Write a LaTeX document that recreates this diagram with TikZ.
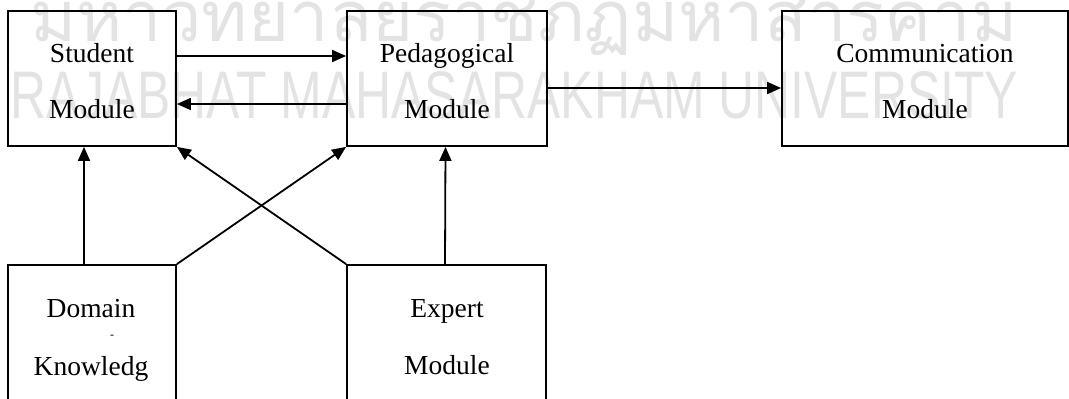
\documentclass[tikz,border=0pt]{standalone}
\usepackage{graphicx}
\usepackage{fontspec}
\setmainfont{Liberation Serif}
\setsansfont{Liberation Sans}
\newfontfamily\thaifont[Script=Thai]{Loma}
\usetikzlibrary{arrows.meta}
\begin{document}
\begin{tikzpicture}[x=1pt,y=-1pt,
  box/.style={draw, line width=1.8pt, inner sep=0pt},
  lbl/.style={font=\fontsize{27.5}{30}\selectfont, anchor=base, inner sep=0pt},
  arr/.style={line width=1.8pt, -{Triangle[length=14pt,width=12pt]}},
  wm/.style={text=black!11, inner sep=0pt, anchor=base west}]
\useasboundingbox (0,0) rectangle (1069,399);
\clip (0,0) rectangle (1069,399);
% watermark
\node[wm] (wth) at (30,41) {\resizebox{987pt}{!}{\thaifont มหาวิทยาลัยราชภัฏมหาสารคาม}};
\node[wm] (wen) at (10,118) {\resizebox{1008pt}{47pt}{\sffamily RAJABHAT MAHASARAKHAM UNIVERSITY}};
% boxes
\node[box, minimum width=168pt, minimum height=135pt] (stu) at (92,78.5) {};
\node[box, minimum width=200pt, minimum height=135pt] (ped) at (447,78.5) {};
\node[box, minimum width=286pt, minimum height=135pt] (com) at (925,78.5) {};
\node[box, minimum width=168pt, minimum height=170pt] (dom) at (92,350) {};
\node[box, minimum width=199pt, minimum height=170pt] (exp) at (446.5,350) {};
% labels
\node[lbl] (t1) at (92,62) {Student};
\node[lbl] (t2) at (92,118) {Module};
\node[lbl] (t3) at (447,62) {Pedagogical};
\node[lbl] (t4) at (447,118) {Module};
\node[lbl] (t5) at (925,62) {Communication};
\node[lbl] (t6) at (925,118) {Module};
\node[lbl] (t7) at (91,317) {Domain};
\node[font=\fontsize{12}{12}\selectfont, inner sep=0pt] (t8) at (112,337) {-};
\node[lbl] (t9) at (91,375) {Knowledg};
\node[lbl] (t10) at (447,317) {Expert};
\node[lbl] (t11) at (447,374) {Module};
% connectors
\draw[arr] ([yshift=22.5pt]stu.east) -- ([yshift=22.5pt]ped.west);
\draw[arr] ([yshift=-25.5pt]ped.west) -- ([yshift=-25.5pt]stu.east);
\draw[arr] ([yshift=-9.5pt]ped.east) -- ([yshift=-9.5pt]com.west);
\draw[arr] ([xshift=-8pt]dom.north) -- ([xshift=-8pt]stu.south);
\draw[arr] ([xshift=-1.5pt]exp.north) -- ([xshift=-1.5pt]ped.south);
\draw[arr] (dom.north east) -- (ped.south west);
\draw[arr] (exp.north west) -- (stu.south east);
\end{tikzpicture}
\end{document}
